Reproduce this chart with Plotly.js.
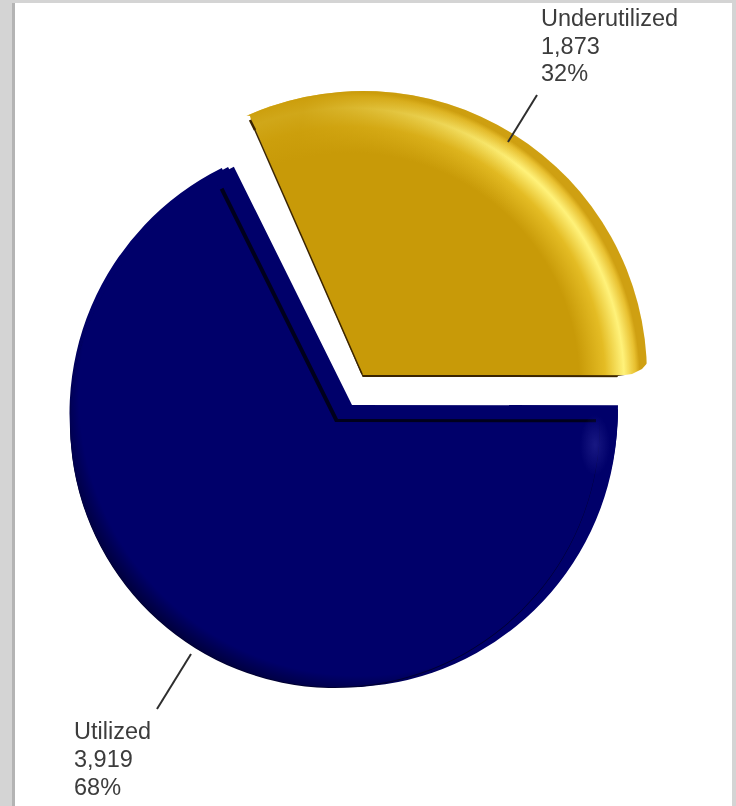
<!DOCTYPE html>
<html>
<head>
<meta charset="utf-8">
<script src="https://cdn.plot.ly/plotly-3.0.1.min.js"></script>
<style>
html,body{margin:0;padding:0;background:#d4d4d4;overflow:hidden}
#chart{width:736px;height:806px}
#chart .main-svg{filter:blur(0.6px)}
</style>
</head>
<body>
<div id="chart"></div>
<script>
var categories = ["Underutilized", "Utilized"];
var values = [1873, 3919];

var W = 736, H = 806;
var CLEAR = "rgba(0,0,0,0)";
var NAVY = "#00006a", GOLD = "#c89a08";
var total = values[0] + values[1];
var rotation = -26.37;

function dom(cx, cy, r) {
  return {x: [(cx - r) / W, (cx + r) / W], y: [1 - (cy + r) / H, 1 - (cy - r) / H]};
}
function layer(name, cx, cy, r, colors) {
  return {
    type: "pie", name: name, labels: categories, values: values, sort: false,
    direction: "clockwise", rotation: rotation, domain: dom(cx, cy, r),
    marker: {colors: colors, line: {width: 0}},
    textinfo: "none", hoverinfo: "skip", showlegend: false
  };
}
var traces = [
  layer("navy bevel", 352, 405, 266, [CLEAR, NAVY]),
  layer("navy hull upper", 348, 409, 270, [CLEAR, NAVY]),
  layer("navy hull", 343.5, 413.5, 274, [CLEAR, NAVY]),
  layer("navy base edge", 335, 423, 265, [CLEAR, "#000030"]),
  layer("navy face", 335, 422, 265, [CLEAR, NAVY]),
  layer("navy line", 338, 419, 258, [CLEAR, "#00001c"]),
  layer("navy face inner", 335, 422, 262, [CLEAR, NAVY]),
  layer("navy sheen", 352, 405, 266, [CLEAR, NAVY]),
  layer("gold edge", 362, 377, 283, ["#3a2400", CLEAR]),
  layer("gold face", 363, 375, 284, [GOLD, CLEAR]),
  layer("gold fade", 363, 375, 284, [GOLD, CLEAR])
];

function fmt(v) { return v.toLocaleString("en-US"); }
function pct(v) { return Math.round(100 * v / total) + "%"; }
function txt(s, x, y) {
  return {text: s, xref: "paper", yref: "paper", x: x / W, y: 1 - y / H, xanchor: "left", yanchor: "middle",
    showarrow: false, align: "left", font: {family: "Liberation Sans, Arial, sans-serif", size: 23.5, color: "#3c3c3c"}};
}
var annotations = [
  txt(categories[0], 539, 18), txt(fmt(values[0]), 539, 46), txt(pct(values[0]), 539, 73),
  txt(categories[1], 72, 731), txt(fmt(values[1]), 72, 759), txt(pct(values[1]), 72, 787)
];
function px(x) { return (x / W).toFixed(5); }
function py(y) { return (1 - y / H).toFixed(5); }
function line(x0, y0, x1, y1, color, width) {
  return {type: "line", xref: "paper", yref: "paper", x0: x0 / W, y0: 1 - y0 / H, x1: x1 / W, y1: 1 - y1 / H,
    layer: "above", line: {color: color, width: width}};
}
function mask(points) {
  var d = points.map(function (p, i) { return (i ? "L" : "M") + px(p[0]) + " " + py(p[1]); }).join(" ") + " Z";
  return {type: "path", xref: "paper", yref: "paper", path: d, layer: "above", line: {width: 0}, fillcolor: "#ffffff"};
}
var shapes = [
  {type: "rect", xref: "paper", yref: "paper", x0: 12 / W, x1: 15 / W, y0: 0, y1: 1 - 3 / H, layer: "below", line: {width: 0}, fillcolor: "#b4b4b4"},
  {type: "rect", xref: "paper", yref: "paper", x0: 15 / W, x1: 732 / W, y0: 0, y1: 1 - 3 / H, layer: "below", line: {width: 0}, fillcolor: "#ffffff"},
  mask([[363, 378], [251, 120], [250, 116], [225, 112], [225, 130], [350, 378]]),
  mask([[650, 380], [616, 380], [618, 376], [632, 374], [642, 369], [650, 360]]),
  line(254, 128, 362, 374, "#3a2400", 1.5),
  line(250, 120, 255, 130, "#3a2400", 2.5),
  line(537, 95, 508, 142, "#2e2e2e", 2),
  line(191, 654, 157, 709, "#2e2e2e", 2)
];
var layout = {
  width: W, height: H, margin: {l: 0, r: 0, t: 0, b: 0}, autosize: false,
  paper_bgcolor: "#d4d4d4", showlegend: false, annotations: annotations, shapes: shapes
};

var NS = "http://www.w3.org/2000/svg";
function grad(svg, tag, id, attrs, list) {
  var defs = svg.querySelector("defs") || svg.insertBefore(document.createElementNS(NS, "defs"), svg.firstChild);
  var g = document.createElementNS(NS, tag);
  g.setAttribute("id", id);
  g.setAttribute("gradientUnits", "userSpaceOnUse");
  Object.keys(attrs).forEach(function (k) { g.setAttribute(k, attrs[k]); });
  list.forEach(function (s) {
    var st = document.createElementNS(NS, "stop");
    st.setAttribute("offset", s[0]);
    st.setAttribute("stop-color", s[1]);
    if (s[2] !== undefined) st.setAttribute("stop-opacity", s[2]);
    g.appendChild(st);
  });
  defs.appendChild(g);
}
Plotly.newPlot("chart", traces, layout, {displayModeBar: false, staticPlot: true}).then(function () {
  var pies = document.querySelectorAll("#chart .pielayer .trace");
  var svg = pies[0].ownerSVGElement;
  grad(svg, "radialGradient", "goldRim", {cx: 350, cy: 382, r: 290}, [
    [0, GOLD], [0.79, GOLD], [0.88, "#e4bc24"], [0.945, "#fff27a"],
    [0.985, "#e8c030"], [1, "#cfa012"]
  ]);
  grad(svg, "linearGradient", "goldFade", {x1: 300, y1: 130, x2: 520, y2: 170}, [
    [0, GOLD, 0.85], [1, GOLD, 0]
  ]);
  grad(svg, "radialGradient", "navyFace", {cx: 360, cy: 395, r: 302}, [
    [0, NAVY], [0.93, NAVY], [1, "#00003c"]
  ]);
  grad(svg, "radialGradient", "navySheen", {cx: 0, cy: 0, r: 30, gradientTransform: "translate(595 445) scale(0.5 1)"}, [
    [0, "#20208a", 0.75], [1, "#20208a", 0]
  ]);
  function paint(i, sliceIdx, id) {
    var s = pies[i].querySelectorAll("path.surface")[sliceIdx];
    if (s) s.style.fill = "url(#" + id + ")";
  }
  paint(2, 1, "navyFace");
  paint(4, 1, "navyFace");
  paint(6, 1, "navyFace");
  paint(7, 1, "navySheen");
  paint(9, 0, "goldRim");
  paint(10, 0, "goldFade");
});
</script>
</body>
</html>
